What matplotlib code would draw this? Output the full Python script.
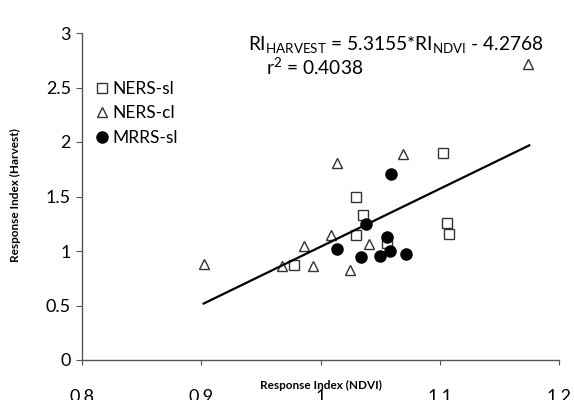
import matplotlib
matplotlib.use('Agg')
import matplotlib.pyplot as plt
import numpy as np

plt.rcParams['font.family'] = ['Lato', 'DejaVu Sans']
plt.rcParams['mathtext.fontset'] = 'custom'
plt.rcParams['mathtext.rm'] = 'Lato'
plt.rcParams['mathtext.it'] = 'Lato:italic'
plt.rcParams['mathtext.bf'] = 'Lato:bold'

# Data
ners_sl_x = [0.978, 1.030, 1.030, 1.036, 1.056, 1.103, 1.106, 1.108]
ners_sl_y = [0.87, 1.15, 1.50, 1.33, 1.07, 1.90, 1.26, 1.16]

ners_cl_x = [0.902, 0.968, 0.986, 0.994, 1.009, 1.014, 1.025, 1.041, 1.069, 1.174]
ners_cl_y = [0.88, 0.86, 1.05, 0.86, 1.15, 1.81, 0.83, 1.06, 1.89, 2.72]

mrrs_sl_x = [1.014, 1.034, 1.038, 1.050, 1.056, 1.058, 1.059, 1.072]
mrrs_sl_y = [1.02, 0.945, 1.25, 0.955, 1.13, 1.00, 1.71, 0.97]

slope = 5.3155
intercept = -4.2768
fit_x = np.array([0.902, 1.175])

x_ticks = [0.8, 0.9, 1.0, 1.1, 1.2]
x_tick_labels = ['0.8', '0.9', '1', '1.1', '1.2']
y_ticks = [0, 0.5, 1, 1.5, 2, 2.5, 3]
y_tick_labels = ['0', '0.5', '1', '1.5', '2', '2.5', '3']

fig = plt.figure(figsize=(5.74, 4.0), dpi=100)
ax = fig.add_axes([0.1429, 0.10, 0.831, 0.8175])

ax.plot(ners_sl_x, ners_sl_y, 's', mfc='white', mec='#333333', mew=1.0, ms=7, ls='none', label='NERS-sl')
ax.plot(ners_cl_x, ners_cl_y, '^', mfc='white', mec='#333333', mew=1.0, ms=7.5, ls='none', label='NERS-cl')
ax.plot(mrrs_sl_x, mrrs_sl_y, 'o', mfc='black', mec='black', ms=8, ls='none', label='MRRS-sl')
ax.plot(fit_x, slope * fit_x + intercept, color='black', lw=1.6)

ax.set_xlim(0.8, 1.2)
ax.set_ylim(0, 3)
ax.set_xticks(x_ticks)
ax.set_xticklabels(x_tick_labels)
ax.set_yticks(y_ticks)
ax.set_yticklabels(y_tick_labels)

for s in ['top', 'right']:
    ax.spines[s].set_visible(False)
for s in ['left', 'bottom']:
    ax.spines[s].set_color('#555555')
    ax.spines[s].set_linewidth(1.0)

ax.tick_params(axis='x', direction='out', length=3.6, color='#555555', labelsize=13, pad=17)
ax.tick_params(axis='y', direction='out', length=4, color='#555555', labelsize=13, pad=4)

ax.set_xlabel('Response Index (NDVI)', fontsize=8.5, fontweight='bold', va='center')
ax.xaxis.set_label_coords(0.501, -0.0765)
ax.set_ylabel('Response Index (Harvest)', fontsize=8.5, fontweight='bold', va='center')
ax.yaxis.set_label_coords(-0.14, 0.505)

fig.text(248 / 574, 1 - 50 / 400, r'RI$_{\mathrm{HARVEST}}$ = 5.3155*RI$_{\mathrm{NDVI}}$ - 4.2768',
         fontsize=13.8, va='baseline', ha='left')
fig.text(266 / 574, 1 - 75 / 400, r'r$^{2}$ = 0.4038', fontsize=13.8, va='baseline', ha='left')

ax.legend(loc='upper left', bbox_to_anchor=(0.01, 0.875), frameon=False, fontsize=12.5,
          handletextpad=0.1, handlelength=1.0, labelspacing=0.5, borderaxespad=0)

fig.savefig('out.png', dpi=100)
